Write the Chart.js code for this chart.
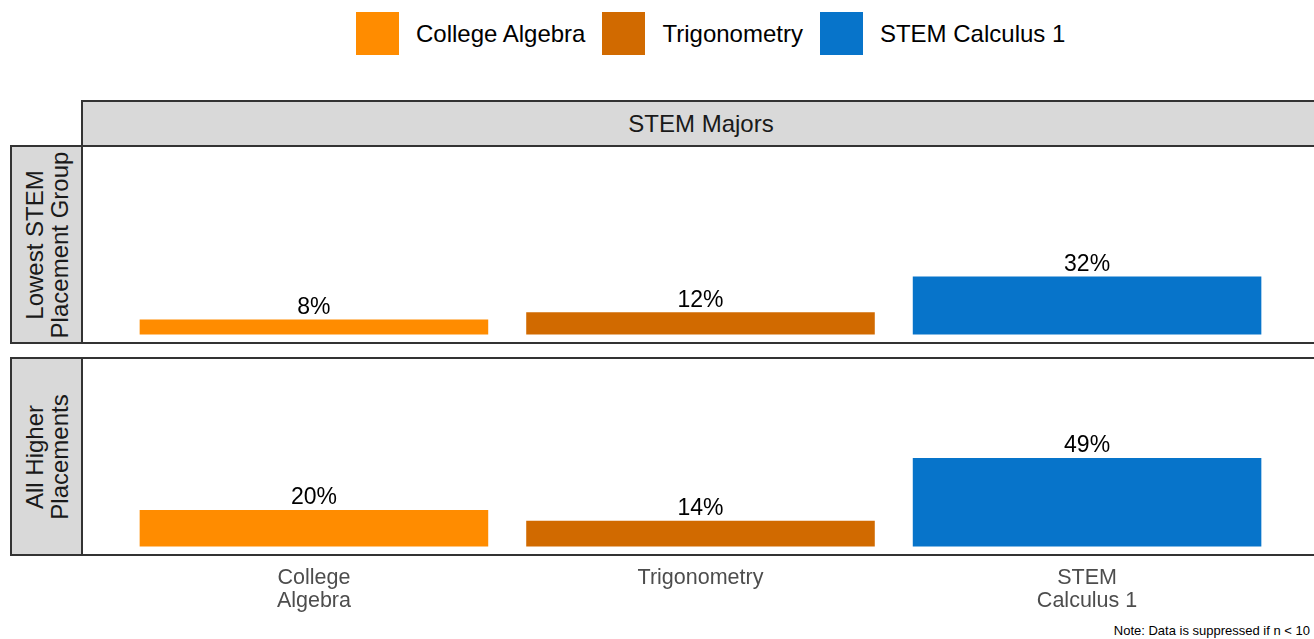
<!DOCTYPE html>
<html>
<head>
<meta charset="UTF-8">
<title>STEM Majors</title>
<script src="https://cdn.jsdelivr.net/npm/chart.js"></script>
<style>
    html, body { margin: 0; padding: 0; overflow: hidden; background: #fff; }
    body { width: 1314px; height: 639px; position: relative; font-family: "Liberation Sans", Arial, sans-serif; }
    #legend { position: absolute; left: 356px; top: 12px; height: 43px; display: flex; align-items: center; }
    .item { display: flex; align-items: center; margin-right: 17px; font-size: 24px; color: #000; white-space: nowrap; }
    .swatch { width: 43px; height: 43px; margin-right: 17px; }
    .strip { position: absolute; background: #d9d9d9; border: 2px solid #333; box-sizing: border-box; color: #1a1a1a; font-size: 24px; }
    .frame { position: absolute; border: 2px solid #333; box-sizing: border-box; pointer-events: none; z-index: 2; }
    .vtext { position: absolute; left: 50%; top: 50%; width: 199px; line-height: 25px; text-align: center;
             transform: translate(-50%, -50%) rotate(-90deg); white-space: nowrap; }
    canvas { position: absolute; }
    #note { position: absolute; right: 4px; top: 623px; font-size: 13px; color: #000; }
</style>
</head>
<body>
<div id="legend"></div>

<div class="strip" style="left:81px; top:100px; width:1240px; height:47px; text-align:center; line-height:43px;">STEM Majors</div>

<div class="strip" style="left:10px; top:145px; width:73px; height:199px;"><div class="vtext" id="row0"></div></div>
<div class="strip" style="left:10px; top:357px; width:73px; height:199px;"><div class="vtext" id="row1"></div></div>

<canvas id="panel0" width="1237" height="197" style="left:82px; top:146px;"></canvas>
<canvas id="panel1" width="1237" height="262" style="left:82px; top:358px;"></canvas>

<div class="frame" style="left:81px; top:145px; width:1240px; height:199px;"></div>
<div class="frame" style="left:81px; top:357px; width:1240px; height:199px;"></div>

<div id="note">Note: Data is suppressed if n &lt; 10</div>

<script>
    // data
    const categories = ['College Algebra', 'Trigonometry', 'STEM Calculus 1'];
    const tickLabels = [['College', 'Algebra'], ['Trigonometry'], ['STEM', 'Calculus 1']];
    const seriesColors = ['#ff8c00', '#d16a00', '#0774ca'];
    const rowLabels = [['Lowest STEM', 'Placement Group'], ['All Higher', 'Placements']];
    const lowestValues = [8, 12, 32];
    const higherValues = [20, 14, 49];

    // legend
    const legend = document.getElementById('legend');
    categories.forEach(function(name, i) {
        const item = document.createElement('div');
        item.className = 'item';
        const sw = document.createElement('div');
        sw.className = 'swatch';
        sw.style.background = seriesColors[i];
        item.appendChild(sw);
        item.appendChild(document.createTextNode(name));
        legend.appendChild(item);
    });

    rowLabels.forEach(function(lines, i) {
        document.getElementById('row' + i).innerHTML = lines.join('<br>');
    });

    const font = '"Liberation Sans", Arial, sans-serif';

    const valueLabels = {
        id: 'valueLabels',
        afterDatasetsDraw(chart) {
            const ctx = chart.ctx;
            const meta = chart.getDatasetMeta(0);
            ctx.save();
            ctx.font = '23px ' + font;
            ctx.fillStyle = '#000';
            ctx.textAlign = 'center';
            ctx.textBaseline = 'alphabetic';
            meta.data.forEach(function(bar, i) {
                ctx.fillText(chart.data.datasets[0].data[i].y + '%', bar.x, bar.y - 6);
            });
            ctx.restore();
        }
    };

    const xTicks = {
        id: 'xTicks',
        afterDraw(chart) {
            if (!chart.options.plugins.xTicks.show) return;
            const ctx = chart.ctx;
            const x = chart.scales.x;
            const bottom = chart.chartArea.bottom;
            ctx.save();
            ctx.font = '21.5px ' + font;
            ctx.fillStyle = '#4d4d4d';
            ctx.textAlign = 'center';
            ctx.textBaseline = 'alphabetic';
            tickLabels.forEach(function(lines, i) {
                lines.forEach(function(line, j) {
                    ctx.fillText(line, x.getPixelForValue(i), bottom + 29 + j * 23.3);
                });
            });
            ctx.restore();
        }
    };

    function makePanel(id, values, showTicks) {
        return new Chart(document.getElementById(id), {
            type: 'bar',
            data: {
                datasets: [{
                    data: values.map(function(v, i) { return { x: i, y: v }; }),
                    backgroundColor: seriesColors,
                    borderWidth: 0,
                    barThickness: 'flex',
                    categoryPercentage: 1,
                    barPercentage: 0.9
                }]
            },
            options: {
                responsive: false,
                animation: false,
                devicePixelRatio: 1,
                layout: { padding: { left: 0, right: 0, top: 0, bottom: showTicks ? 65 : 0 } },
                plugins: { legend: { display: false }, tooltip: { enabled: false }, xTicks: { show: showTicks } },
                scales: {
                    x: { type: 'linear', min: -0.6, max: 2.6, offset: false, display: false },
                    y: { min: -5, max: 105, display: false }
                }
            },
            plugins: [valueLabels, xTicks]
        });
    }

    makePanel('panel0', lowestValues, false);
    makePanel('panel1', higherValues, true);
</script>
</body>
</html>
